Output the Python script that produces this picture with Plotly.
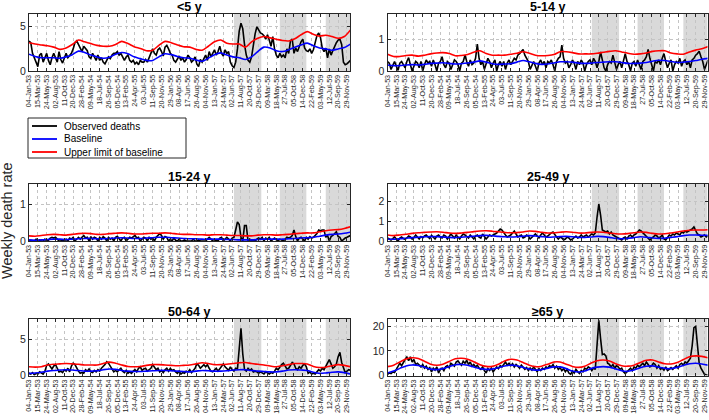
import pandas as pd
import plotly.graph_objects as go

W, H = 709, 420
START = "1953-01-04"
END = "1959-12-23"
OBS_FREQ = "14D"    # observed series read every 2 weeks
BASE_FREQ = "49D"   # baseline series read every 7 weeks
TICK_FREQ = "70D"

TICK_LABELS = ["04-Jan-53", "15-Mar-53", "24-May-53", "02-Aug-53", "11-Oct-53", "20-Dec-53",
               "28-Feb-54", "09-May-54", "18-Jul-54", "26-Sep-54", "05-Dec-54", "13-Feb-55",
               "24-Apr-55", "03-Jul-55", "11-Sep-55", "20-Nov-55", "29-Jan-56", "08-Apr-56",
               "17-Jun-56", "26-Aug-56", "04-Nov-56", "13-Jan-57", "24-Mar-57", "02-Jun-57",
               "11-Aug-57", "20-Oct-57", "29-Dec-57", "09-Mar-58", "18-May-58", "27-Jul-58",
               "05-Oct-58", "14-Dec-58", "22-Feb-59", "03-May-59", "12-Jul-59", "20-Sep-59",
               "29-Nov-59"]

PANEL_TITLES = ["&lt;5 y", "5-14 y", "15-24 y", "25-49 y", "50-64 y", "≥65 y"]
Y_MAX = [6.45, 1.8, 1.55, 2.85, 7.8, 23]
Y_TICKS = [[0, 5], [0, 1], [0, 1], [0, 1, 2], [0, 5], [0, 10, 20]]

SHADE_START = ["1957-06-16", "1958-06-15", "1959-06-14"]
SHADE_END = ["1958-01-19", "1959-01-11", END]

LEGEND_LABELS = ["Observed deaths", "Baseline", "Upper limit of baseline"]
COLORS = ["#000000", "#0000ff", "#ff0000"]

# ---------------- <5 y ----------------
OBS_LT5 = [3.4, 3.2, 2.0, 1.5, 1.0, 0.5, 1.8, 2.0, 1.0, 1.5, 2.0, 1.2, 0.7, 1.5, 2.0, 1.5, 1.0,
           2.2, 1.3, 0.9, 1.5, 2.0, 1.5, 1.8, 2.0, 2.5, 3.2, 3.4, 3.0, 2.7, 2.2, 2.8, 2.5,
           2.3, 1.6, 1.4, 2.0, 1.5, 1.2, 1.8, 1.2, 1.5, 1.0, 0.8, 1.2, 1.6, 1.4, 1.8, 2.0,
           2.0, 2.2, 1.8, 2.0, 1.5, 1.2, 1.6, 1.8, 1.2, 1.0, 1.2, 0.8, 1.0, 0.7, 1.2, 1.0,
           1.0, 1.3, 1.0, 1.5, 2.2, 2.5, 2.0, 1.8, 2.4, 2.6, 2.2, 1.7, 2.7, 2.9, 2.5, 2.0,
           1.8, 1.2, 1.0, 1.4, 1.7, 1.2, 1.5, 1.0, 1.3, 1.8, 1.5, 1.0, 1.2, 1.6, 0.8, 0.5,
           1.3, 1.0, 1.5, 1.8, 1.2, 2.2, 1.6, 2.0, 2.4, 1.8, 2.2, 2.8, 2.0, 1.7, 2.4, 2.0,
           2.2, 1.0, 0.6, 0.4, 1.0, 2.5, 4.5, 5.4, 4.8, 3.0, 1.8, 1.2, 1.0, 1.6, 3.0, 4.2, 5.0,
           4.6, 4.3, 4.2, 4.0, 3.6, 4.1, 3.5, 2.8, 3.9, 2.5, 1.8, 1.5, 2.0, 1.6, 1.8,
           1.5, 2.5, 2.0, 3.4, 3.6, 2.0, 2.6, 2.2, 2.8, 3.3, 3.6, 2.6, 2.3, 2.2, 2.5, 2.0,
           2.4, 3.2, 4.0, 4.3, 3.8, 2.6, 2.2, 2.6, 1.5, 2.5, 1.8, 2.3, 2.8, 3.2, 3.5,
           3.6, 3.0, 1.0, 0.7, 0.8, 1.0, 1.2]
BASE_LT5 = [1.9, 1.65, 1.5, 1.5, 1.5, 1.45, 1.6, 1.85, 2.25, 2.1,
            1.8, 1.6, 1.45, 1.55, 1.9, 2.1, 1.95, 1.6, 1.4, 1.2,
            1.2, 1.6, 1.95, 1.85, 1.65, 1.5, 1.45, 1.25, 1.1, 1.45,
            1.85, 2.05, 1.8, 1.6, 1.5, 1.3, 1.6, 2.2, 2.7, 2.6,
            2.3, 2.2, 2.4, 2.7, 2.95, 3.15, 2.85, 2.6, 2.5, 2.35,
            2.5, 2.65, 3.05]
UPPER_LT5 = [3.2, 3.05, 2.95, 2.85, 2.7, 2.45, 2.6, 3.0, 3.5, 3.3,
             3.1, 2.9, 2.8, 2.8, 3.0, 3.35, 3.1, 2.75, 2.55, 2.3,
             2.35, 2.9, 3.35, 3.2, 2.95, 2.75, 2.7, 2.45, 2.35, 2.8,
             3.3, 3.5, 3.15, 3.05, 3.05, 2.7, 3.3, 3.7, 3.9, 3.75,
             3.6, 3.45, 3.4, 3.65, 4.1, 4.45, 4.15, 3.95, 4.05, 3.9,
             3.7, 3.9, 4.65]

# ---------------- 5-14 y ----------------
OBS_5_14 = [0.3, 0.25, 0.05, 0.2, 0.3, 0.15, 0.02, 0.25, 0.3, 0.2,
            0.1, 0.3, 0.42, 0.2, 0.0, 0.15, 0.3, 0.25, 0.1, 0.3,
            0.0, 0.2, 0.35, 0.25, 0.3, 0.15, 0.35, 0.2, 0.0, 0.25,
            0.3, 0.45, 0.2, 0.1, 0.3, 0.25, 0.05, 0.2, 0.35, 0.3,
            0.2, 0.0, 0.25, 0.3, 0.5, 0.3, 0.15, 0.35, 0.2, 0.25,
            0.4, 0.85, 0.4, 0.2, 0.3, 0.05, 0.25, 0.4, 0.3, 0.1,
            0.25, 0.35, 0.0, 0.2, 0.3, 0.15, 0.3, 0.05, 0.25, 0.35,
            0.2, 0.3, 0.4, 0.35, 0.5, 0.55, 0.6, 0.68, 0.5, 0.4,
            0.3, 0.05, 0.2, 0.3, 0.15, 0.0, 0.25, 0.35, 0.2, 0.3,
            0.1, 0.3, 0.25, 0.35, 0.2, 0.0, 0.3, 0.4, 0.45, 0.82,
            0.4, 0.25, 0.3, 0.1, 0.2, 0.35, 0.25, 0.05, 0.3, 0.2,
            0.35, 0.25, 0.0, 0.2, 0.3, 0.35, 0.2, 0.4, 0.3, 0.1,
            0.3, 0.6, 0.35, 0.1, 0.0, 0.2, 0.3, 0.25, 0.5, 0.3,
            0.05, 0.2, 0.3, 0.1, 0.35, 0.55, 0.3, 0.2, 0.0, 0.25,
            0.3, 0.15, 0.35, 0.2, 0.05, 0.3, 0.35, 0.45, 0.68, 0.4,
            0.2, 0.0, 0.3, 0.25, 0.35, 0.2, 0.4, 0.55, 0.3, 0.1,
            0.25, 0.35, 0.0, 0.2, 0.3, 0.25, 0.4, 0.15, 0.3, 0.35,
            0.2, 0.3, 0.1, 0.35, 0.4, 0.5, 0.55, 0.62, 0.45, 0.3,
            0.05, 0.2, 0.35]
BASE_5_14 = [0.19, 0.17, 0.17, 0.19, 0.2, 0.19, 0.21, 0.24, 0.25, 0.26,
             0.24, 0.22, 0.23, 0.25, 0.28, 0.32, 0.28, 0.23, 0.21, 0.22,
             0.23, 0.28, 0.33, 0.29, 0.24, 0.21, 0.22, 0.25, 0.29, 0.29,
             0.28, 0.25, 0.24, 0.25, 0.27, 0.28, 0.29, 0.29, 0.27, 0.24,
             0.24, 0.25, 0.27, 0.31, 0.34, 0.33, 0.3, 0.27, 0.28, 0.3,
             0.33, 0.37, 0.4]
UPPER_5_14 = [0.53, 0.46, 0.46, 0.49, 0.5, 0.47, 0.5, 0.54, 0.57, 0.58,
              0.55, 0.48, 0.49, 0.52, 0.59, 0.64, 0.55, 0.5, 0.5, 0.5,
              0.53, 0.56, 0.61, 0.56, 0.5, 0.48, 0.49, 0.52, 0.61, 0.61,
              0.58, 0.54, 0.54, 0.54, 0.56, 0.59, 0.62, 0.64, 0.6, 0.56,
              0.53, 0.54, 0.57, 0.62, 0.64, 0.64, 0.57, 0.54, 0.53, 0.6,
              0.66, 0.7, 0.77]

# ---------------- 15-24 y ----------------
OBS_15_24 = [0.0, 0.02, 0.0, 0.0, 0.05, 0.0, 0.03, 0.0, 0.0, 0.05,
             0.0, 0.02, 0.08, 0.1, 0.08, 0.1, 0.05, 0.0, 0.0, 0.03,
             0.0, 0.05, 0.0, 0.08, 0.05, 0.1, 0.0, 0.06, 0.1, 0.05,
             0.1, 0.15, 0.08, 0.1, 0.0, 0.12, 0.05, 0.1, 0.08, 0.0,
             0.1, 0.05, 0.12, 0.08, 0.0, 0.1, 0.05, 0.08, 0.0, 0.1,
             0.13, 0.05, 0.0, 0.08, 0.1, 0.0, 0.05, 0.1, 0.08, 0.12,
             0.15, 0.08, 0.1, 0.0, 0.05, 0.1, 0.08, 0.0, 0.1, 0.05,
             0.08, 0.0, 0.1, 0.15, 0.2, 0.15, 0.05, 0.12, 0.1, 0.0,
             0.05, 0.0, 0.08, 0.02, 0.0, 0.05, 0.0, 0.0, 0.03, 0.0,
             0.0, 0.02, 0.0, 0.05, 0.0, 0.0, 0.03, 0.0, 0.0, 0.02,
             0.0, 0.05, 0.1, 0.05, 0.0, 0.0, 0.02, 0.0, 0.08, 0.1,
             0.0, 0.05, 0.1, 0.05, 0.0, 0.08, 0.1, 0.3, 0.52, 0.45,
             0.1, 0.0, 0.42, 0.42, 0.0, 0.05, 0.0, 0.02, 0.0, 0.05,
             0.08, 0.05, 0.1, 0.0, 0.08, 0.05, 0.1, 0.0, 0.05, 0.08,
             0.03, 0.0, 0.05, 0.02, 0.0, 0.05, 0.1, 0.08, 0.1, 0.15,
             0.3, 0.12, 0.0, 0.08, 0.1, 0.05, 0.0, 0.1, 0.05, 0.12,
             0.08, 0.1, 0.15, 0.2, 0.3, 0.28, 0.3, 0.3, 0.1, 0.15,
             0.0, 0.12, 0.15, 0.2, 0.25, 0.12, 0.1, 0.0, 0.05, 0.08,
             0.1, 0.12, 0.15]
BASE_15_24 = [0.03, 0.02, 0.03, 0.04, 0.05, 0.05, 0.04, 0.05, 0.06, 0.07,
              0.07, 0.06, 0.06, 0.07, 0.08, 0.09, 0.08, 0.07, 0.07, 0.08,
              0.09, 0.1, 0.1, 0.09, 0.08, 0.07, 0.06, 0.06, 0.05, 0.05,
              0.05, 0.05, 0.04, 0.04, 0.03, 0.03, 0.03, 0.04, 0.05, 0.05,
              0.05, 0.05, 0.06, 0.07, 0.08, 0.09, 0.1, 0.13, 0.16, 0.18,
              0.19, 0.21, 0.24]
UPPER_15_24 = [0.14, 0.13, 0.15, 0.17, 0.18, 0.17, 0.16, 0.18, 0.2, 0.21,
               0.2, 0.18, 0.18, 0.2, 0.21, 0.22, 0.21, 0.19, 0.19, 0.2,
               0.21, 0.21, 0.22, 0.21, 0.19, 0.18, 0.18, 0.17, 0.17, 0.16,
               0.17, 0.17, 0.16, 0.15, 0.15, 0.14, 0.14, 0.16, 0.17, 0.17,
               0.16, 0.17, 0.18, 0.2, 0.21, 0.22, 0.22, 0.25, 0.28, 0.3,
               0.31, 0.34, 0.39]

# ---------------- 25-49 y ----------------
OBS_25_49 = [0.15, 0.1, 0.05, 0.12, 0.2, 0.1, 0.0, 0.15, 0.2, 0.12,
             0.08, 0.15, 0.25, 0.2, 0.1, 0.18, 0.3, 0.2, 0.1, 0.22,
             0.15, 0.25, 0.3, 0.2, 0.12, 0.28, 0.2, 0.1, 0.25, 0.3,
             0.2, 0.15, 0.3, 0.25, 0.1, 0.2, 0.35, 0.25, 0.15, 0.3,
             0.2, 0.1, 0.25, 0.35, 0.3, 0.2, 0.15, 0.3, 0.2, 0.1,
             0.25, 0.3, 0.2, 0.15, 0.35, 0.25, 0.1, 0.2, 0.3, 0.25,
             0.3, 0.35, 0.4, 0.5, 0.6, 0.55, 0.4, 0.3, 0.2, 0.25,
             0.3, 0.4, 0.5, 0.35, 0.2, 0.25, 0.3, 0.15, 0.2, 0.3,
             0.25, 0.1, 0.2, 0.3, 0.35, 0.25, 0.15, 0.3, 0.4, 0.3,
             0.2, 0.25, 0.35, 0.4, 0.45, 0.3, 0.2, 0.1, 0.2, 0.15,
             0.05, 0.1, 0.2, 0.15, 0.05, 0.1, 0.2, 0.25, 0.15, 0.2,
             0.3, 0.2, 0.25, 0.3, 0.2, 0.3, 0.35, 0.3, 0.4, 1.2,
             1.85, 1.3, 0.55, 0.5, 0.45, 0.5, 0.35, 0.45, 0.3, 0.25,
             0.2, 0.15, 0.1, 0.05, 0.15, 0.2, 0.1, 0.25, 0.3, 0.2,
             0.3, 0.35, 0.45, 0.55, 0.5, 0.4, 0.3, 0.2, 0.1, 0.05,
             0.15, 0.2, 0.3, 0.25, 0.15, 0.2, 0.3, 0.1, 0.05, 0.2,
             0.3, 0.25, 0.35, 0.3, 0.4, 0.35, 0.3, 0.45, 0.4, 0.5,
             0.45, 0.5, 0.55, 0.6, 0.7, 0.5, 0.35, 0.3, 0.2, 0.25,
             0.3, 0.2, 0.25]
BASE_25_49 = [0.1, 0.09, 0.11, 0.14, 0.17, 0.19, 0.21, 0.22, 0.22, 0.2,
              0.18, 0.17, 0.19, 0.21, 0.24, 0.27, 0.28, 0.26, 0.23, 0.21,
              0.2, 0.21, 0.24, 0.27, 0.25, 0.22, 0.19, 0.2, 0.22, 0.23,
              0.21, 0.18, 0.18, 0.2, 0.23, 0.22, 0.18, 0.13, 0.11, 0.13,
              0.17, 0.21, 0.19, 0.15, 0.13, 0.14, 0.18, 0.22, 0.27, 0.3,
              0.3, 0.29, 0.28]
UPPER_25_49 = [0.3, 0.27, 0.3, 0.34, 0.38, 0.41, 0.43, 0.45, 0.46, 0.44,
               0.4, 0.38, 0.4, 0.43, 0.47, 0.5, 0.51, 0.49, 0.46, 0.43,
               0.41, 0.42, 0.45, 0.5, 0.48, 0.44, 0.4, 0.41, 0.44, 0.46,
               0.44, 0.4, 0.4, 0.43, 0.45, 0.44, 0.4, 0.36, 0.35, 0.37,
               0.41, 0.45, 0.43, 0.38, 0.35, 0.36, 0.4, 0.45, 0.5, 0.54,
               0.55, 0.55, 0.56]

# ---------------- 50-64 y ----------------
OBS_50_64 = [0.3, 0.2, 0.4, 0.1, 0.3, 0.2, 0.5, 0.3, 0.2, 0.6,
             1.4, 1.6, 1.2, 0.9, 1.3, 1.5, 1.0, 0.5, 0.6, 0.4,
             0.8, 0.6, 1.0, 0.5, 1.3, 1.7, 1.5, 1.0, 0.6, 0.3,
             0.4, 0.3, 0.8, 0.6, 0.9, 0.5, 0.4, 0.7, 0.5, 0.8,
             0.6, 1.0, 1.2, 1.5, 1.9, 1.7, 1.3, 0.8, 0.5, 0.7,
             0.5, 0.8, 1.0, 0.6, 0.4, 0.7, 0.3, 0.5, 0.3, 0.6,
             0.8, 0.5, 1.0, 1.2, 0.7, 0.9, 1.0, 0.6, 0.8, 1.0,
             1.5, 1.2, 0.8, 1.0, 0.5, 0.7, 0.4, 0.8, 1.0, 0.6,
             1.0, 0.7, 0.8, 0.5, 0.3, 0.6, 0.2, 0.4, 0.3, 0.6,
             0.5, 0.8, 0.4, 0.7, 1.0, 1.6, 1.4, 1.0, 1.3, 1.5,
             1.2, 1.5, 1.0, 0.6, 0.5, 0.8, 1.0, 0.6, 0.9, 1.3,
             1.6, 1.2, 1.0, 0.7, 1.2, 0.8, 0.6, 1.0, 0.9, 4.0,
             6.5, 3.0, 0.8, 0.6, 1.0, 0.7, 0.9, 0.5, 0.6, 0.5,
             0.3, 0.5, 0.4, 0.2, 0.5, 0.3, 0.2, 0.4, 0.3, 0.6,
             1.0, 0.8, 1.2, 1.5, 1.7, 1.2, 0.9, 1.0, 1.5, 1.8,
             1.6, 1.0, 0.8, 1.2, 1.0, 1.4, 1.6, 1.2, 0.3, 0.5,
             0.2, 0.3, 0.2, 0.5, 0.8, 0.6, 1.0, 0.8, 1.2, 1.8,
             2.2, 1.6, 1.0, 1.2, 1.6, 2.6, 3.2, 1.8, 1.0, 0.4,
             0.6, 0.8, 0.7]
BASE_50_64 = [0.3, 0.35, 0.45, 0.6, 0.7, 0.75, 0.8, 0.75, 0.7, 0.6,
              0.6, 0.65, 0.8, 0.9, 0.85, 0.7, 0.6, 0.55, 0.55, 0.6,
              0.65, 0.7, 0.7, 0.65, 0.6, 0.55, 0.5, 0.6, 0.7, 0.65,
              0.6, 0.6, 0.65, 0.75, 0.8, 0.8, 0.7, 0.6, 0.55, 0.5,
              0.5, 0.6, 0.75, 0.8, 0.75, 0.7, 0.45, 0.3, 0.35, 0.45,
              0.5, 0.4, 0.2]
UPPER_50_64 = [1.2, 1.15, 1.2, 1.45, 1.55, 1.6, 1.65, 1.6, 1.55, 1.45,
               1.45, 1.45, 1.65, 1.85, 1.7, 1.45, 1.25, 1.2, 1.25, 1.4,
               1.5, 1.5, 1.45, 1.4, 1.35, 1.4, 1.45, 1.6, 1.75, 1.65,
               1.5, 1.5, 1.55, 1.65, 1.75, 1.8, 1.65, 1.55, 1.45, 1.3,
               1.2, 1.35, 1.5, 1.65, 1.65, 1.6, 1.25, 1.1, 1.15, 1.35,
               1.5, 1.4, 1.2]

# ---------------- >=65 y ----------------
OBS_65 = [0.5, 1.0, 0.8, 1.5, 1.2, 2.5, 3.5, 5.0, 4.0, 5.5,
          6.5, 7.5, 6.0, 7.6, 5.5, 6.5, 4.5, 5.0, 4.2, 3.5,
          4.5, 3.0, 3.8, 2.5, 3.2, 1.5, 3.0, 2.2, 3.5, 1.0,
          2.5, 3.0, 2.0, 3.5, 4.0, 3.2, 5.0, 4.5, 3.8, 5.5,
          6.0, 5.0, 4.2, 5.8, 5.0, 6.2, 4.5, 5.5, 3.8, 4.5,
          3.5, 4.2, 3.0, 2.5, 3.5, 2.0, 1.0, 2.8, 2.0, 3.0,
          1.5, 2.5, 3.5, 2.8, 4.0, 3.5, 4.8, 5.5, 4.2, 5.0,
          4.0, 4.8, 3.5, 4.5, 3.8, 3.0, 4.2, 3.5, 2.5, 3.2,
          2.0, 3.0, 2.2, 3.5, 2.5, 1.5, 2.8, 2.0, 3.0, 2.5,
          3.5, 3.0, 4.0, 3.5, 4.5, 3.0, 3.8, 2.5, 3.2, 2.0,
          2.8, 1.5, 2.5, 1.0, 0.5, 1.8, 1.0, 2.5, 1.5, 0.8,
          2.0, 1.5, 3.0, 2.5, 3.5, 3.0, 2.0, 3.0, 2.5, 12.0,
          22.5, 15.0, 8.5, 8.8, 8.0, 5.0, 4.5, 3.5, 4.5, 3.0,
          4.0, 3.5, 2.5, 3.0, 1.5, 0.8, 1.5, 2.5, 3.0, 2.0,
          3.5, 3.0, 4.2, 3.5, 4.5, 5.0, 4.0, 5.5, 4.5, 3.5,
          4.0, 5.0, 4.5, 3.0, 4.0, 2.5, 3.0, 2.2, 3.5, 2.0,
          2.5, 3.2, 2.5, 3.5, 4.0, 3.0, 4.5, 5.0, 4.2, 5.5,
          5.0, 6.0, 7.0, 12.0, 19.5, 20.0, 11.0, 5.0, 3.0, 1.5,
          0.5, 0.3, 0.2]
BASE_65 = [1.0, 1.8, 2.9, 3.9, 4.3, 4.1, 3.4, 2.6, 2.4, 2.8,
           3.6, 4.4, 4.5, 4.2, 3.5, 2.8, 2.5, 2.6, 3.2, 3.9,
           4.2, 4.0, 3.3, 2.6, 2.2, 2.4, 3.0, 3.5, 3.5, 2.8,
           1.8, 1.4, 1.8, 2.8, 3.4, 3.6, 3.4, 2.7, 1.9, 1.7,
           2.2, 3.2, 3.8, 3.9, 3.4, 2.9, 2.8, 3.3, 4.1, 4.8,
           5.0, 4.7, 4.2]
UPPER_65 = [3.6, 4.2, 5.5, 6.7, 7.2, 6.9, 5.8, 4.6, 4.2, 4.6,
            5.7, 6.8, 7.0, 6.6, 5.6, 4.4, 3.7, 3.7, 4.6, 5.9,
            6.6, 6.3, 5.3, 4.2, 3.6, 3.8, 4.6, 5.5, 5.5, 4.6,
            3.7, 3.3, 3.8, 5.0, 6.0, 6.3, 5.9, 4.8, 4.0, 3.8,
            4.2, 5.3, 6.2, 6.3, 5.5, 4.8, 4.7, 5.3, 6.5, 7.6,
            8.0, 7.8, 7.2]

OBS = [OBS_LT5, OBS_5_14, OBS_15_24, OBS_25_49, OBS_50_64, OBS_65]
BASE = [BASE_LT5, BASE_5_14, BASE_15_24, BASE_25_49, BASE_50_64, BASE_65]
UPPER = [UPPER_LT5, UPPER_5_14, UPPER_15_24, UPPER_25_49, UPPER_50_64, UPPER_65]

# ---------------- layout geometry (pixels) ----------------
COL_X = [(29, 350), (387.5, 707.5)]
ROW_Y = [(14, 71), (184, 241), (319, 375.5)]
FONT = "Liberation Sans, Arial, Helvetica, sans-serif"
AX_COLOR = "#262626"


def px_x(x):
    return x / W


def px_y(y):
    return 1 - y / H


fig = go.Figure()
tick_dates = pd.date_range(START, periods=len(TICK_LABELS), freq=TICK_FREQ)
shapes = []
annotations = []

for i in range(6):
    r, c = divmod(i, 2)
    n = i + 1
    suffix = "" if n == 1 else str(n)
    xa, ya = "x" + suffix, "y" + suffix
    obs_dates = pd.date_range(START, periods=len(OBS[i]), freq=OBS_FREQ)
    base_dates = pd.date_range(START, periods=len(BASE[i]), freq=BASE_FREQ)

    fig.add_trace(go.Scatter(x=obs_dates, y=OBS[i], mode="lines",
                             line=dict(color=COLORS[0], width=1.6),
                             xaxis=xa, yaxis=ya, showlegend=False, hoverinfo="skip"))
    fig.add_trace(go.Scatter(x=base_dates, y=BASE[i], mode="lines",
                             line=dict(color=COLORS[1], width=1.6, shape="spline", smoothing=0.8),
                             xaxis=xa, yaxis=ya, showlegend=False, hoverinfo="skip"))
    fig.add_trace(go.Scatter(x=base_dates, y=UPPER[i], mode="lines",
                             line=dict(color=COLORS[2], width=1.6, shape="spline", smoothing=0.8),
                             xaxis=xa, yaxis=ya, showlegend=False, hoverinfo="skip"))

    x0, x1 = COL_X[c]
    y0, y1 = ROW_Y[r]
    common = dict(showline=True, mirror="allticks", linecolor=AX_COLOR, linewidth=1,
                  ticks="inside", ticklen=3, tickcolor=AX_COLOR, tickwidth=1,
                  showgrid=True, gridcolor="#c4c4c4", griddash="dot", gridwidth=1,
                  zeroline=False, automargin=False, fixedrange=True)
    fig.layout["xaxis" + suffix] = dict(
        domain=[px_x(x0), px_x(x1)], anchor=ya, type="date", range=[START, END],
        tickmode="array", tickvals=list(tick_dates), ticktext=TICK_LABELS,
        tickangle=-90, tickfont=dict(family=FONT, size=7.2, color=AX_COLOR), **common)
    fig.layout["yaxis" + suffix] = dict(
        domain=[px_y(y1), px_y(y0)], anchor=xa, range=[0, Y_MAX[i]],
        tickmode="array", tickvals=Y_TICKS[i],
        tickfont=dict(family=FONT, size=10.5, color=AX_COLOR), **common)

    for s0, s1 in zip(SHADE_START, SHADE_END):
        shapes.append(dict(type="rect", xref=xa, yref=ya + " domain", x0=s0, x1=s1,
                           y0=0, y1=1, fillcolor="#d9d9d9", line=dict(width=0), layer="below"))

    annotations.append(dict(text="<b>" + PANEL_TITLES[i] + "</b>", xref="paper", yref="paper",
                            x=px_x((x0 + x1) / 2), y=px_y(y0 - 7), xanchor="center",
                            yanchor="middle", showarrow=False,
                            font=dict(family=FONT, size=12.5, color="#000000")))

# y-axis label
annotations.append(dict(text="Weekly death rate", xref="paper", yref="paper",
                        x=px_x(7), y=px_y(221), xanchor="center", yanchor="middle",
                        textangle=-90, showarrow=False,
                        font=dict(family=FONT, size=14.5, color=AX_COLOR)))

# legend box
LEG_BOX = (28, 118, 186, 158)
shapes.append(dict(type="rect", xref="paper", yref="paper",
                   x0=px_x(LEG_BOX[0]), x1=px_x(LEG_BOX[2]),
                   y0=px_y(LEG_BOX[3]), y1=px_y(LEG_BOX[1]),
                   fillcolor="white", line=dict(color=AX_COLOR, width=1), layer="above"))
LEG_ROWS = [126, 139, 152]
for label, color, yy in zip(LEGEND_LABELS, COLORS, LEG_ROWS):
    shapes.append(dict(type="line", xref="paper", yref="paper",
                       x0=px_x(32), x1=px_x(57), y0=px_y(yy), y1=px_y(yy),
                       line=dict(color=color, width=1.8), layer="above"))
    annotations.append(dict(text=label, xref="paper", yref="paper",
                            x=px_x(62), y=px_y(yy), xanchor="left", yanchor="middle",
                            showarrow=False, font=dict(family=FONT, size=10, color="#000000")))

fig.update_layout(width=W, height=H, autosize=False,
                  margin=dict(l=0, r=0, t=0, b=0, pad=0),
                  paper_bgcolor="white", plot_bgcolor="white",
                  shapes=shapes, annotations=annotations, showlegend=False,
                  font=dict(family=FONT, color=AX_COLOR))

fig.write_html("out.html", config={"displayModeBar": False},
               post_script=("document.body.style.margin='0';"
                            "document.body.style.padding='0';"
                            "document.body.style.overflow='hidden';"))
